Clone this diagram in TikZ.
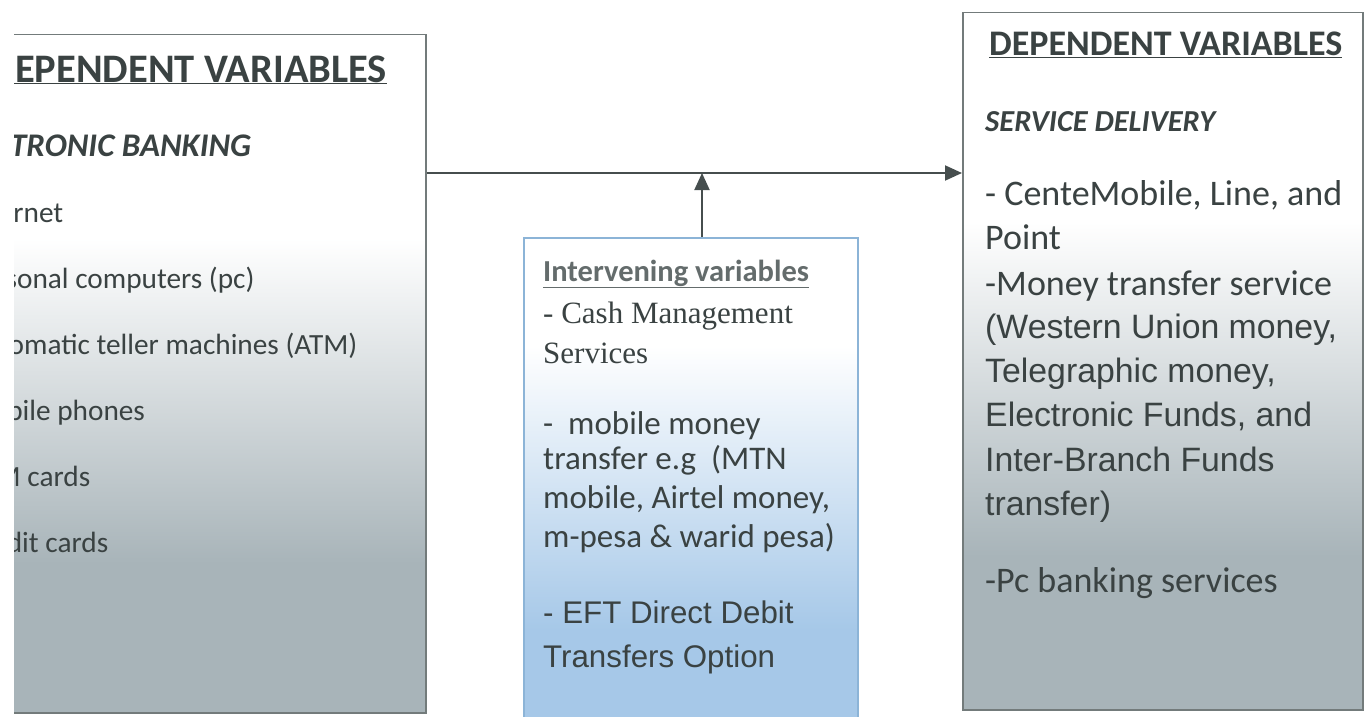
\documentclass[tikz,border=0pt]{standalone}
\usepackage{fontspec}
\setmainfont{Carlito}
\newfontfamily\arialfont{Liberation Sans}
\newfontfamily\romanfont{Liberation Serif}
\usetikzlibrary{arrows.meta}

\definecolor{ink}{RGB}{58,66,66}
\definecolor{softink}{RGB}{100,108,108}
\definecolor{wire}{RGB}{70,78,78}
\definecolor{frame}{RGB}{115,123,123}
\definecolor{bluefrm}{RGB}{140,180,215}
\definecolor{boxgrey}{RGB}{168,180,185}
\definecolor{boxblue}{RGB}{166,200,232}

% fades run bottom (0bp) to top (100bp); 25bp..75bp covers the box
\pgfdeclareverticalshading{greyfade}{100bp}{color(0bp)=(boxgrey); color(36bp)=(boxgrey); color(60bp)=(white); color(100bp)=(white)}
\pgfdeclareverticalshading{bluefade}{100bp}{color(0bp)=(boxblue); color(35bp)=(boxblue); color(64bp)=(white); color(100bp)=(white)}

\begin{document}
\begin{tikzpicture}[x=1pt,y=-1pt,
    box/.style={draw=frame, line width=1.5pt, shading=greyfade, anchor=north west, inner sep=0},
    txt/.style={anchor=base west, inner sep=0, text=ink},
    link/.style={draw=wire, line width=2pt, -{Triangle[length=17pt,width=15pt]}}]
\useasboundingbox (0,0) rectangle (1366,717);
\begin{scope}
\clip (14,0) rectangle (1366,717);
% the three boxes
\node[box, minimum width=485pt, minimum height=678pt] (indep) at (-60,34) {};
\node[box, minimum width=400pt, minimum height=697pt] (dep) at (962,12) {};
\node[box, shading=bluefade, draw=bluefrm, minimum width=334pt, minimum height=490pt] (inter) at (523,237) {};

% independent variables
\node[txt, font=\bfseries\fontsize{40.5}{46}\selectfont] (indhead) at (-48,82) {\underline{INDEPENDENT VARIABLES}};
\node[txt, font=\bfseries\itshape\fontsize{33}{38}\selectfont] (indsub) at (-53,156) {ELECTRONIC BANKING};
\foreach \lbl [count=\i from 0] in {Internet, Personal computers (pc), Automatic teller machines (ATM), Mobile phones, ATM cards, Credit cards}
  \node[txt, font=\fontsize{29.3}{34}\selectfont] (ind\i) at (-49,222+66*\i) {- \lbl};

% dependent variables
\node[txt, font=\bfseries\fontsize{36}{42}\selectfont] (dephead) at (989,56) {\underline{DEPENDENT VARIABLES}};
\node[txt, font=\bfseries\itshape\fontsize{30.5}{36}\selectfont] (depsub) at (985,131) {SERVICE DELIVERY};
\node[txt, font=\fontsize{36}{42}\selectfont] (d1) at (985,205) {- CenteMobile, Line, and};
\node[txt, font=\fontsize{36}{42}\selectfont] (d2) at (985,249) {Point};
\node[txt, font=\fontsize{36}{42}\selectfont] (d3) at (985,295) {-Money transfer service};
\node[txt, font=\arialfont\fontsize{33.8}{38}\selectfont] (d4) at (985,338) {(Western Union money,};
\node[txt, font=\arialfont\fontsize{33.8}{38}\selectfont] (d5) at (985,382) {Telegraphic money,};
\node[txt, font=\arialfont\fontsize{33.8}{38}\selectfont] (d6) at (985,426) {Electronic Funds, and};
\node[txt, font=\arialfont\fontsize{33.8}{38}\selectfont] (d7) at (985,471) {Inter-Branch Funds};
\node[txt, font=\arialfont\fontsize{33.8}{38}\selectfont] (d8) at (985,515) {transfer)};
\node[txt, font=\fontsize{36}{42}\selectfont] (d9) at (985,592) {-Pc banking services};

% intervening variables
\node[txt, text=softink, font=\bfseries\fontsize{30.5}{36}\selectfont] (ivhead) at (543,281) {\underline{Intervening variables}};
\node[txt, font=\romanfont\fontsize{31}{36}\selectfont] (iv1) at (543,323) {- Cash Management};
\node[txt, font=\romanfont\fontsize{31}{36}\selectfont] (iv2) at (543,363) {Services};
\node[txt, font=\fontsize{33}{38}\selectfont] (iv3) at (543,434) {-~~mobile money};
\node[txt, font=\fontsize{33}{38}\selectfont] (iv4) at (543,469) {transfer e.g~~(MTN};
\node[txt, font=\fontsize{33}{38}\selectfont] (iv5) at (543,508) {mobile, Airtel money,};
\node[txt, font=\fontsize{33}{38}\selectfont] (iv6) at (543,547) {m-pesa \& warid pesa)};
\node[txt, font=\arialfont\fontsize{31.3}{36}\selectfont] (iv7) at (543,623) {- EFT Direct Debit};
\node[txt, font=\arialfont\fontsize{31.3}{36}\selectfont] (iv8) at (543,667) {Transfers Option};
\end{scope}

% arrows
\coordinate (join) at (702,173);
\draw[link] (indep.east |- join) -- (dep.west |- join);
\draw[link] (inter.north -| join) -- (join);
\end{tikzpicture}
\end{document}
